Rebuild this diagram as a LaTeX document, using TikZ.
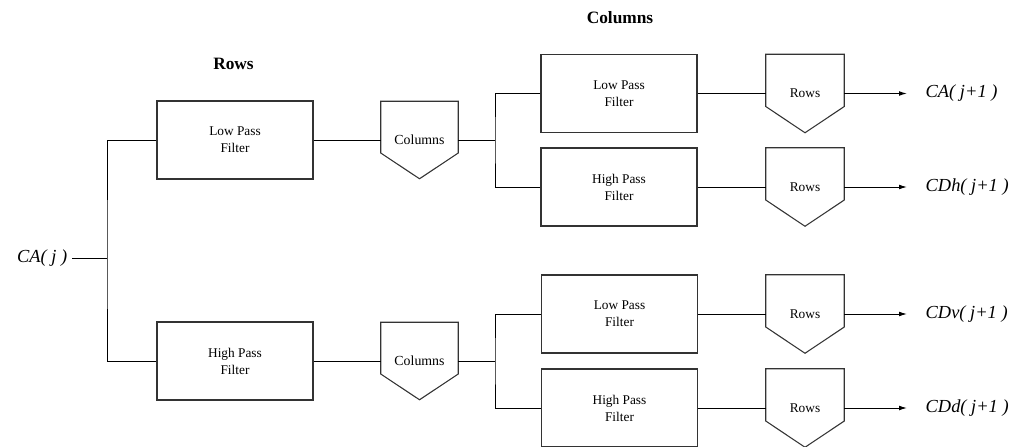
\documentclass[tikz,border=0pt]{standalone}
\usepackage{fontspec}
\setmainfont{Liberation Serif}
\usetikzlibrary{arrows.meta, calc}

\begin{document}
\begin{tikzpicture}[x=0.75pt, y=-0.75pt,
		filter/.style={draw=black!80, line width=0.8pt, minimum width=117pt, minimum height=58.5pt, inner sep=0pt, align=center, font=\fontsize{10}{12.75}\selectfont},
		pent/.style={minimum width=57.75pt, minimum height=57.75pt, inner sep=0pt, font=\fontsize{10.4}{12}\selectfont},
		rowpent/.style={pent, minimum width=58.5pt, minimum height=58.5pt, font=\fontsize{10}{12}\selectfont},
		title/.style={font=\fontsize{13}{15}\selectfont\bfseries},
		signal/.style={font=\fontsize{13.8}{16}\selectfont\itshape},
		wire/.style={line width=0.75pt},
		outwire/.style={wire, -{Latex[length=6pt, width=3.6pt]}, shorten >=10.5pt}]
	\useasboundingbox (0, 0) rectangle (1027, 446);

	\node[title] (rowstitle) at (233.5, 64) {Rows};
	\node[title] (coltitle) at (620, 18) {Columns};

	\node[signal, anchor=east] (ca) at (72, 258) {CA( j )};
	\coordinate (j0) at (107, 258);

	\node[filter] (lp1) at (235, 140) {Low Pass\\Filter};
	\node[filter] (hp1) at (235, 361) {High Pass\\Filter};

	\node[pent] (c1) at (419.5, 140) {Columns};
	\node[pent] (c2) at (419.5, 361) {Columns};

	\coordinate (j1) at (495, 140);
	\coordinate (j2) at (495, 361);

	\node[filter] (lp2) at (619, 93.5) {Low Pass\\Filter};
	\node[filter] (hp2) at (619, 187) {High Pass\\Filter};
	\node[filter] (lp3) at (619.5, 314) {Low Pass\\Filter};
	\node[filter] (hp3) at (619.5, 408) {High Pass\\Filter};

	\node[rowpent] (r1) at (805, 93.5) {Rows};
	\node[rowpent] (r2) at (805, 187) {Rows};
	\node[rowpent] (r3) at (805, 314) {Rows};
	\node[rowpent] (r4) at (805, 408) {Rows};

	\node[signal, anchor=west] (o1) at (921, 93.5) {CA( j+1 )};
	\node[signal, anchor=west] (o2) at (921, 187) {CDh( j+1 )};
	\node[signal, anchor=west] (o3) at (921, 314) {CDv( j+1 )};
	\node[signal, anchor=west] (o4) at (921, 408) {CDd( j+1 )};

	% pentagon outlines
	\foreach \n in {c1, c2, r1, r2, r3, r4}
		\draw[draw=black!80, line width=0.8pt] (\n.north west) -- (\n.north east) -- ($(\n.east)+(0, 13)$) -- (\n.south) -- ($(\n.west)+(0, 13)$) -- cycle;

	\draw[wire] (ca.east) -- (j0);
	\draw[wire] (lp1.west) -| (j0) |- (hp1.west);
	\draw[wire] (lp1.east) -- (c1.west);
	\draw[wire] (hp1.east) -- (c2.west);

	\draw[wire] (c1.east) -- (j1);
	\draw[wire] (lp2.west) -| (j1) |- (hp2.west);
	\draw[wire] (c2.east) -- (j2);
	\draw[wire] (lp3.west) -| (j2) |- (hp3.west);

	\draw[wire] (lp2.east) -- (r1.west);
	\draw[wire] (hp2.east) -- (r2.west);
	\draw[wire] (lp3.east) -- (r3.west);
	\draw[wire] (hp3.east) -- (r4.west);

	\draw[outwire] (r1.east) -- (o1.west);
	\draw[outwire] (r2.east) -- (o2.west);
	\draw[outwire] (r3.east) -- (o3.west);
	\draw[outwire] (r4.east) -- (o4.west);
\end{tikzpicture}
\end{document}
